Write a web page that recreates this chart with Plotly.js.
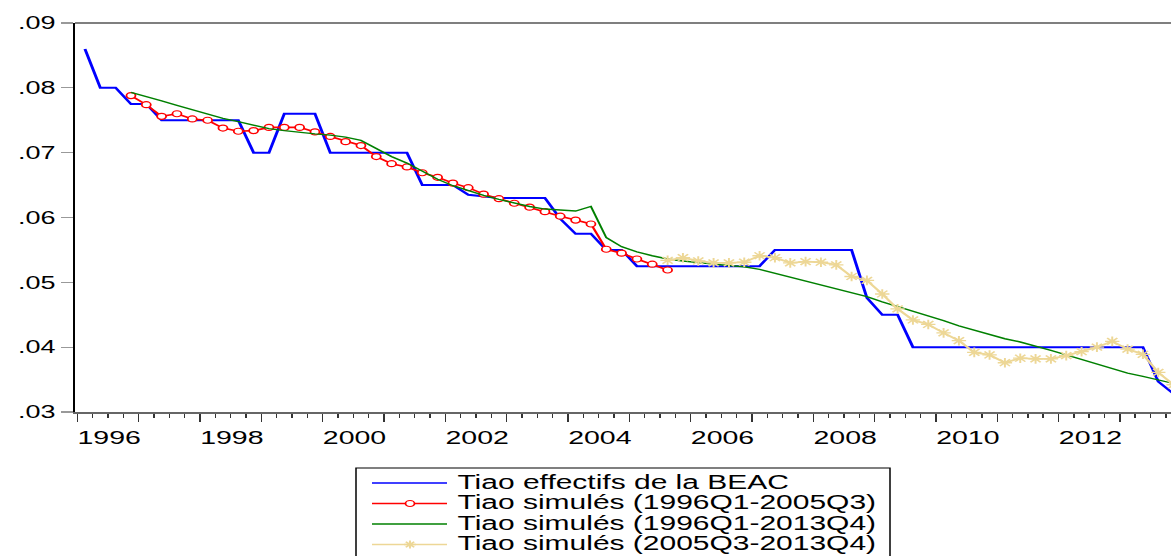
<!DOCTYPE html>
<html>
<head>
<meta charset="utf-8">
<script src="https://cdn.plot.ly/plotly-3.0.1.min.js"></script>
<style>
html,body{margin:0;padding:0;overflow:hidden;background:#fff;width:1171px;height:556px;}
#chart{width:781px;height:556px;transform:scaleX(1.49936);transform-origin:0 0;}
</style>
</head>
<body>
<div id="chart"></div>
<script>
// ---- data ----
const startYear = 1996;
const nQuarters = 72;               // 1996Q1 .. 2013Q4
const seriesNames = [
  "Tiao effectifs de la BEAC",
  "Tiao simulés (1996Q1-2005Q3)",
  "Tiao simulés (1996Q1-2013Q4)",
  "Tiao simulés (2005Q3-2013Q4)"
];
const yTickVals = [0.03, 0.04, 0.05, 0.06, 0.07, 0.08, 0.09];
const yTickText = [".03", ".04", ".05", ".06", ".07", ".08", ".09"];
const xLabelYears = [1996, 1998, 2000, 2002, 2004, 2006, 2008, 2010, 2012];
const xLabelText  = ["1996", "1998", "2000", "2002", "2004", "2006", "2008", "2010", "2012"];

// Tiao effectifs de la BEAC, from 1996Q1
const blueStart = "1996Q1";
const blueValues = [
  0.086, 0.080, 0.080, 0.0775, 0.0775, 0.075, 0.075, 0.075, 0.075, 0.075,
  0.075, 0.070, 0.070, 0.076, 0.076, 0.076, 0.070, 0.070, 0.070, 0.070,
  0.070, 0.070, 0.065, 0.065, 0.065, 0.0635, 0.0632, 0.063, 0.063, 0.063,
  0.063, 0.0598, 0.0575, 0.0575, 0.055, 0.055, 0.0525, 0.0525, 0.0525, 0.0525,
  0.0525, 0.0525, 0.0525, 0.0525, 0.0525, 0.055, 0.055, 0.055, 0.055, 0.055,
  0.055, 0.0476, 0.045, 0.045, 0.040, 0.040, 0.040, 0.040, 0.040, 0.040,
  0.040, 0.040, 0.040, 0.040, 0.040, 0.040, 0.040, 0.040, 0.040, 0.040,
  0.0347, 0.0328
];
// Tiao simulés (1996Q1-2005Q3)
const redStart = "1996Q4";
const redValues = [
  0.0788, 0.0774, 0.0756, 0.0760, 0.0752, 0.0750, 0.0738, 0.0733, 0.0734, 0.0739,
  0.0739, 0.0739, 0.0732, 0.0725, 0.0717, 0.0711, 0.0694, 0.0683, 0.0678, 0.0669,
  0.0662, 0.0653, 0.0646, 0.0636, 0.0629, 0.0622, 0.0616, 0.0609, 0.0602, 0.0596,
  0.0590, 0.0551, 0.0545, 0.0536, 0.0528, 0.0519
];
// Tiao simulés (1996Q1-2013Q4)
const greenStart = "1996Q4";
const greenValues = [
  0.0793, 0.0787, 0.0780, 0.0773, 0.0766, 0.0759, 0.0753, 0.0748, 0.0742, 0.0737,
  0.0734, 0.0731, 0.0729, 0.0727, 0.0724, 0.0719, 0.0707, 0.0694, 0.0684, 0.0671,
  0.0659, 0.0649, 0.0641, 0.0634, 0.0628, 0.0622, 0.0617, 0.0613, 0.0611, 0.0610,
  0.0617, 0.0569, 0.0555, 0.0547, 0.0541, 0.0536, 0.0533, 0.0530, 0.0528, 0.0526,
  0.0524, 0.0520, 0.0514, 0.0508, 0.0502, 0.0495, 0.0489, 0.0483, 0.0478, 0.0470,
  0.0463, 0.0455, 0.0448, 0.0441, 0.0433, 0.0426, 0.0419, 0.0413, 0.0408, 0.0402,
  0.0395, 0.0388, 0.0381, 0.0374, 0.0367, 0.0360, 0.0355, 0.0349, 0.0344
];
// Tiao simulés (2005Q3-2013Q4)
const yellowStart = "2005Q3";
const yellowValues = [
  0.0534, 0.0538, 0.0533, 0.0530, 0.0530, 0.0531, 0.0541, 0.0538, 0.0530, 0.0532,
  0.0531, 0.0527, 0.0509, 0.0503, 0.0482, 0.0459, 0.0442, 0.0435, 0.0422, 0.0410,
  0.0392, 0.0388, 0.0376, 0.0383, 0.0382, 0.0382, 0.0387, 0.0393, 0.0400, 0.0409,
  0.0397, 0.0389, 0.0361, 0.0342
];

// ---- helpers ----
const quarters = Array.from({length: nQuarters}, (_, i) => (startYear + Math.floor(i / 4)) + "Q" + (i % 4 + 1));
function qToX(q) { const y = +q.slice(0, 4), k = +q.slice(5); return y + (k - 0.5) / 4; }
function xsFrom(start, n) { const i0 = quarters.indexOf(start); return quarters.slice(i0, i0 + n).map(qToX); }

const colors = ["#0000FF", "#FF0000", "#008000", "#EDD796"];
const FONT = "Liberation Sans, Arial, Helvetica, sans-serif";

const traces = [
  {x: xsFrom(blueStart, blueValues.length), y: blueValues, name: seriesNames[0], type: "scatter", mode: "lines",
   line: {color: colors[0], width: 2}},
  {x: xsFrom(redStart, redValues.length), y: redValues, name: seriesNames[1], type: "scatter", mode: "lines+markers",
   line: {color: colors[1], width: 1.6},
   marker: {symbol: "circle", size: 6, color: "#FFFFFF", line: {color: colors[1], width: 1.2}}},
  {x: xsFrom(greenStart, greenValues.length), y: greenValues, name: seriesNames[2], type: "scatter", mode: "lines",
   line: {color: colors[2], width: 1.4}},
  {x: xsFrom(yellowStart, yellowValues.length), y: yellowValues, name: seriesNames[3], type: "scatter", mode: "lines+markers",
   line: {color: colors[3], width: 1.8},
   marker: {symbol: "asterisk-open", size: 8, color: colors[3], line: {color: colors[3], width: 1.3}}},
  // carrier for the label axis (no visible marks)
  {x: [null], y: [null], xaxis: "x2", yaxis: "y", type: "scatter", mode: "lines", name: "labels"}
];
traces.forEach(t => { t.showlegend = false; t.hoverinfo = "skip"; });

// ---- layout geometry (pre-stretch px) ----
const S = 1171 / 781;
const W = 781, H = 556;
const mL = 50, mR = 0, mT = 23, mB = 144;
const plotW = W - mL - mR, plotH = H - mT - mB;
const pxPerYear = 61.33 / S;
const xRange = [1995.962, 1995.962 + plotW / pxPerYear];
const labelFont = {family: FONT, size: 19, color: "#000"};
const labelOffsetYears = 0.52;     // EViews draws labels to the right of the year tick
function px(xFinal) { return (xFinal / S - mL) / plotW; }
function py(yFinal) { return (mT + plotH - yFinal) / plotH; }

const shapes = [
  {type: "line", xref: "paper", yref: "paper", x0: 0, x1: 1, y0: 1, y1: 1, line: {color: "#000", width: 1}},
  {type: "rect", xref: "paper", yref: "paper", x0: px(356), x1: px(890), y0: py(600), y1: py(468),
   line: {color: "#000", width: 1}, fillcolor: "rgba(0,0,0,0)"}
];
const annotations = [];
const legendRows = [481.5, 502, 522.5, 543];
seriesNames.forEach((name, i) => {
  const yText = py(legendRows[i]);
  const yy = py(legendRows[i] + 1.5);
  shapes.push({type: "line", xref: "paper", yref: "paper", x0: px(372), x1: px(447), y0: yy, y1: yy,
    line: {color: colors[i], width: i === 0 ? 1.6 : 1.4}});
  if (i === 1) {
    shapes.push({type: "circle", xref: "paper", yref: "paper", xsizemode: "pixel", ysizemode: "pixel",
      xanchor: px(410), yanchor: yy, x0: -3, x1: 3, y0: -3, y1: 3,
      fillcolor: "#FFFFFF", line: {color: colors[1], width: 1.2}});
  }
  if (i === 3) {
    shapes.push({type: "path", xref: "paper", yref: "paper", xsizemode: "pixel", ysizemode: "pixel",
      xanchor: px(410), yanchor: yy,
      path: "M-4,0L4,0M0,-4L0,4M-2.8,-2.8L2.8,2.8M-2.8,2.8L2.8,-2.8",
      line: {color: colors[3], width: 1.3}});
  }
  annotations.push({xref: "paper", yref: "paper", x: px(456), y: yText, xanchor: "left", yanchor: "middle",
    text: name, showarrow: false, borderpad: 0, font: {family: FONT, size: 20, color: "#000"}});
});

const layout = {
  width: W, height: H,
  margin: {l: mL, r: mR, t: mT, b: mB, pad: 0},
  paper_bgcolor: "#FFFFFF", plot_bgcolor: "#FFFFFF",
  font: {family: FONT, color: "#000"},
  showlegend: false,
  xaxis: {
    range: xRange,
    tickmode: "linear", tick0: 1996, dtick: 1,
    ticks: "outside", ticklen: 8, tickwidth: 1, tickcolor: "#333",
    showticklabels: false,
    minor: {tick0: 1996, dtick: 0.25, ticks: "outside", ticklen: 4, tickwidth: 1, tickcolor: "#333", showgrid: false},
    showline: true, linecolor: "#666", linewidth: 1.5,
    showgrid: false, zeroline: false
  },
  xaxis2: {
    overlaying: "x", anchor: "y", side: "bottom",
    range: xRange,
    tickmode: "array",
    tickvals: xLabelYears.map(y => y + labelOffsetYears),
    ticktext: xLabelText,
    ticks: "outside", ticklen: 8, tickcolor: "rgba(0,0,0,0)",
    showline: false, showgrid: false, zeroline: false,
    tickfont: labelFont
  },
  yaxis: {
    range: [0.03, 0.09],
    tickmode: "array", tickvals: yTickVals, ticktext: yTickText,
    ticks: "outside", ticklen: 8, tickwidth: 1.3, tickcolor: "#999",
    showline: true, linecolor: "#000", linewidth: 1.4,
    showgrid: false, zeroline: false,
    tickfont: {family: FONT, size: 18, color: "#000"}
  },
  shapes: shapes,
  annotations: annotations
};

Plotly.newPlot("chart", traces, layout, {staticPlot: true, displayModeBar: false});
</script>
</body>
</html>
